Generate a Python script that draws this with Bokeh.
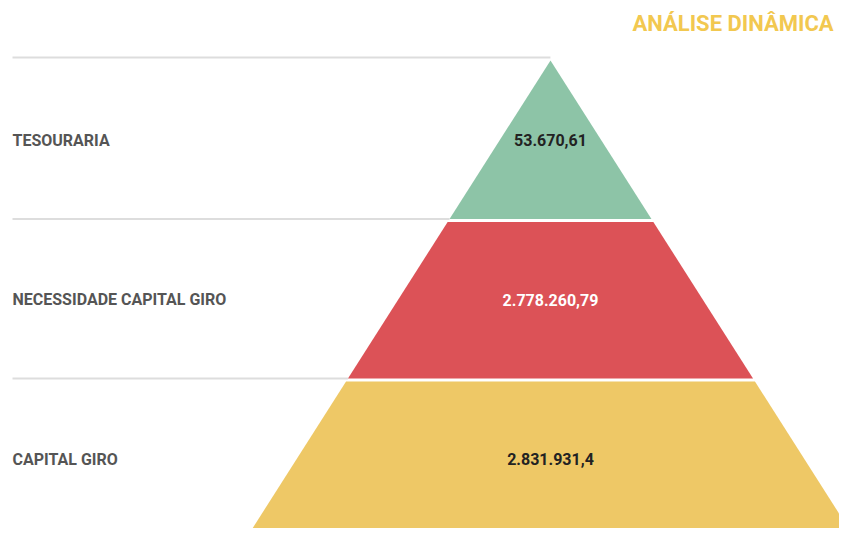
from bokeh.plotting import figure
from bokeh.models import Range1d, ColumnDataSource
from bokeh.core.properties import value
from bokeh.embed import file_html
from bokeh.resources import INLINE

categories = ["TESOURARIA", "NECESSIDADE CAPITAL GIRO", "CAPITAL GIRO"]
values = [53670.61, 2778260.79, 2831931.4]
value_labels = ["53.670,61", "2.778.260,79", "2.831.931,4"]
colors = ["#8dc4a7", "#dc5257", "#eec866"]
value_colors = ["#222222", "#ffffff", "#222222"]
title = "ANÁLISE DINÂMICA"

# layout (pixel-like data space: x right, y down)
W, H = 839, 528
apex_x, apex_y = 550, 60
tier_h = 159.5
slope = 100 / 157.0
gap = 2
label_x = 12

p = figure(width=W, height=H, output_backend="svg", toolbar_location=None,
           x_range=Range1d(0, W), y_range=Range1d(H, 0),
           min_border=0, outline_line_color=None)
p.axis.visible = False
p.grid.visible = False
p.background_fill_color = "white"
p.border_fill_color = "white"

xs, ys, lx0, lx1, ly, cy = [], [], [], [], [], []
for i in range(len(categories)):
    top = apex_y + i * tier_h + (gap if i > 0 else 0)
    bot = apex_y + (i + 1) * tier_h - (gap / 2 if i < len(categories) - 1 else -20)
    ht = (top - apex_y) * slope
    hb = (bot - apex_y) * slope
    if i == 0:
        xs.append([apex_x, apex_x + hb, apex_x - hb])
        ys.append([apex_y, bot, bot])
    else:
        xs.append([apex_x - ht, apex_x + ht, apex_x + hb, apex_x - hb])
        ys.append([top, top, bot, bot])
    line_y = apex_y + i * tier_h - (3 if i == 0 else 1)
    lx0.append(label_x)
    lx1.append(apex_x - (line_y - apex_y) * slope - (2 if i == 0 else 0))
    ly.append(line_y)
    cy.append(apex_y + (i + 0.5) * tier_h)

src = ColumnDataSource(dict(xs=xs, ys=ys, color=colors, cat=categories,
                            val=values, lab=value_labels, vcol=value_colors,
                            lx0=lx0, lx1=lx1, ly=ly, cy=cy,
                            labx=[label_x] * 3, cx=[apex_x] * 3))

p.segment(x0="lx0", y0="ly", x1="lx1", y1="ly", source=src,
          line_color="#dddddd", line_width=2)
p.patches(xs="xs", ys="ys", fill_color="color", line_color=None, source=src)

p.text(x="labx", y="cy", text="cat", source=src, text_font=value("Roboto"),
       text_font_style="bold", text_font_size="16px", text_color="#555555",
       text_baseline="middle", text_align="left")
p.text(x="cx", y="cy", text="lab", source=src, text_font=value("Roboto"),
       text_font_style="bold", text_font_size="16px", text_color="vcol",
       text_baseline="middle", text_align="center")

p.text(x=[632], y=[23], text=[title], text_font=value("Roboto"),
       text_font_style="bold", text_font_size="22px", text_color="#f2c850",
       text_baseline="middle", text_align="left")

open("out.html", "w").write(file_html(p, INLINE))
